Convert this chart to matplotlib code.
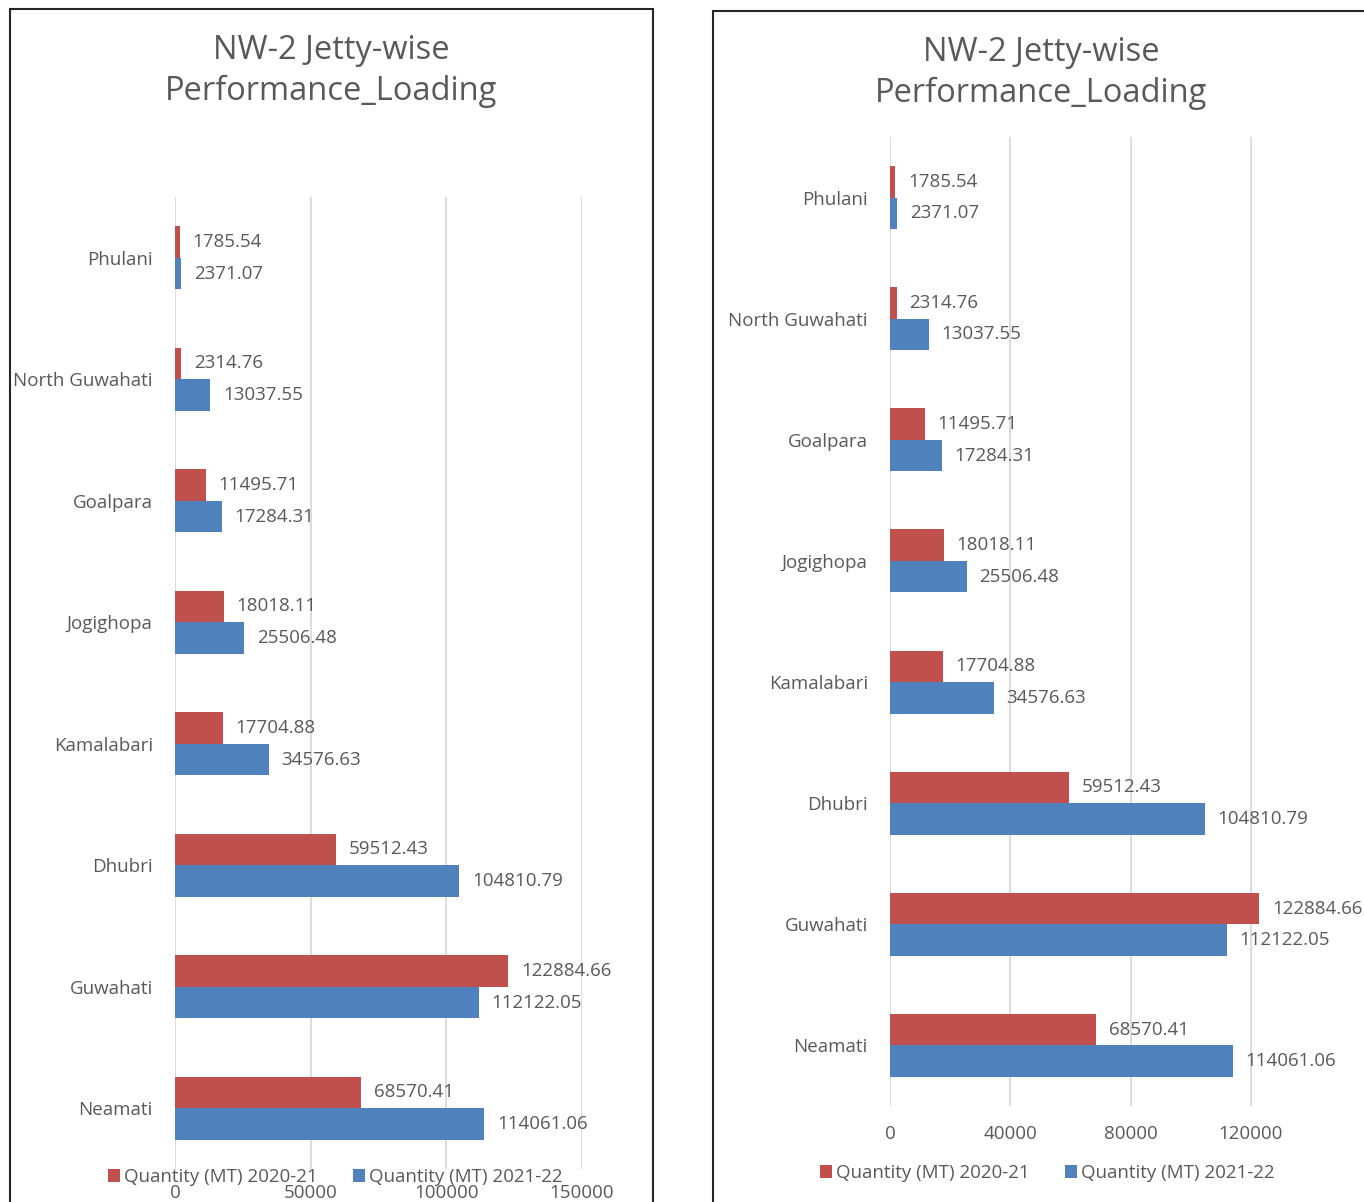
import matplotlib.pyplot as plt
from matplotlib.patches import Rectangle
import numpy as np

plt.rcParams['font.family'] = ['Open Sans', 'DejaVu Sans']

# Jetty-wise loading data (MT)
jetties = ['Phulani', 'North Guwahati', 'Goalpara', 'Jogighopa',
           'Kamalabari', 'Dhubri', 'Guwahati', 'Neamati']
qty_2020_21 = [1785.54, 2314.76, 11495.71, 18018.11,
               17704.88, 59512.43, 122884.66, 68570.41]
qty_2021_22 = [2371.07, 13037.55, 17284.31, 25506.48,
               34576.63, 104810.79, 112122.05, 114061.06]
labels_2020_21 = ['1785.54', '2314.76', '11495.71', '18018.11',
                  '17704.88', '59512.43', '122884.66', '68570.41']
labels_2021_22 = ['2371.07', '13037.55', '17284.31', '25506.48',
                  '34576.63', '104810.79', '112122.05', '114061.06']
series_names = ['Quantity (MT) 2020-21', 'Quantity (MT) 2021-22']
title = 'NW-2 Jetty-wise\nPerformance_Loading'

RED = '#C0504D'
BLUE = '#4F81BD'
TXT = '#595959'
GRID = '#D9D9D9'

W, H = 1364, 1202
fig = plt.figure(figsize=(W / 100, H / 100), dpi=100)
FS = 13.5


def fx(px):
    return px / W


def fy(py):
    return 1 - py / H


def draw_panel(box, ax_rect, xlim, xticks, title_xy, legend_y, tick_pad, label_off):
    # chart border
    fig.patches.append(Rectangle((fx(box[0]), fy(box[3])), fx(box[2] - box[0]),
                                 (box[3] - box[1]) / H, transform=fig.transFigure,
                                 fill=False, edgecolor='#262626', lw=1.5))
    fig.text(fx(title_xy[0]), fy(title_xy[1]), title, ha='center', va='center',
             fontsize=23.5, color=TXT, linespacing=1.33)

    ax = fig.add_axes([fx(ax_rect[0]), fy(ax_rect[3]),
                       fx(ax_rect[2] - ax_rect[0]), (ax_rect[3] - ax_rect[1]) / H])
    y = np.arange(len(jetties))
    h = 0.26
    b1 = ax.barh(y - h / 2, qty_2020_21, height=h, color=RED, label=series_names[0])
    b2 = ax.barh(y + h / 2, qty_2021_22, height=h, color=BLUE, label=series_names[1])
    ax.bar_label(b1, labels=labels_2020_21, padding=label_off, fontsize=FS, color=TXT)
    ax.bar_label(b2, labels=labels_2021_22, padding=label_off, fontsize=FS, color=TXT)

    ax.set_ylim(len(jetties) - 0.5, -0.5)
    ax.set_yticks(y)
    ax.set_yticklabels(jetties, fontsize=FS, color=TXT)
    ax.set_xlim(*xlim)
    ax.set_xticks(xticks)
    ax.set_xticklabels([str(t) for t in xticks], fontsize=FS, color=TXT)
    ax.tick_params(axis='both', length=0)
    ax.tick_params(axis='y', pad=16)
    ax.tick_params(axis='x', pad=tick_pad)
    for s in ax.spines.values():
        s.set_visible(False)
    ax.grid(axis='x', color=GRID, lw=1.3)
    ax.set_axisbelow(True)

    leg = fig.legend(handles=[b1, b2], loc='center', ncol=2,
                     bbox_to_anchor=(fx(legend_y[0]), fy(legend_y[1])),
                     frameon=False, fontsize=FS, handlelength=0.65, handleheight=0.65,
                     handletextpad=0.2, columnspacing=1.9)
    for t in leg.get_texts():
        t.set_color(TXT)
    return ax


# left panel
draw_panel(box=(10, 9, 653, 1230), ax_rect=(175, 197, 582, 1169),
           xlim=(0, 150000), xticks=[0, 50000, 100000, 150000],
           title_xy=(331, 71), legend_y=(335, 1177), tick_pad=11, label_off=9)

# right panel
draw_panel(box=(713, 11, 1420, 1230), ax_rect=(890, 137, 1371, 1106),
           xlim=(0, 160000), xticks=[0, 40000, 80000, 120000],
           title_xy=(1041, 73), legend_y=(1047, 1173), tick_pad=14, label_off=9)

fig.savefig('out.png', dpi=100)
